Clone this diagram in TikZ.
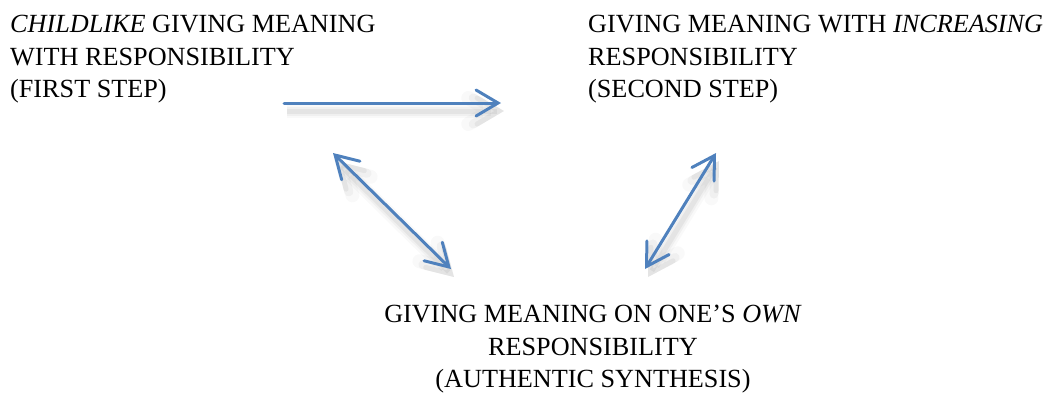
\documentclass[tikz,border=0pt]{standalone}
\usepackage{fontspec}
\setmainfont{Liberation Serif}
\usetikzlibrary{arrows.meta}
\definecolor{arrowblue}{RGB}{79,129,189}
\tikzset{
  label text/.style={inner sep=0pt, font=\fontsize{26.2}{32.5}\selectfont},
  link/.style={draw=arrowblue, line width=3pt, line cap=round,
    {Straight Barb[length=22pt,width=26pt,line cap=round]}-{Straight Barb[length=22pt,width=26pt,line cap=round]}},
  single link/.style={draw=arrowblue, line width=3pt, line cap=round,
    -{Straight Barb[length=22pt,width=26pt,line cap=round]}},
  soft shadow/.style={
    preaction={draw=black, draw opacity=0.025, line width=14pt, transform canvas={shift={(3pt,-8pt)}}},
    preaction={draw=black, draw opacity=0.035, line width=9pt, transform canvas={shift={(3pt,-8pt)}}},
    preaction={draw=black, draw opacity=0.05, line width=5pt, transform canvas={shift={(3pt,-8pt)}}}}
}
\begin{document}
\begin{tikzpicture}[x=1pt,y=-1pt]
\useasboundingbox (0,0) rectangle (1049,392);
\node[label text, anchor=north west, align=left] (tl) at (10,15)
  {\textit{CHILDLIKE} GIVING MEANING\\WITH RESPONSIBILITY\\(FIRST STEP)};
\node[label text, anchor=north west, align=left] (tr) at (588,15)
  {GIVING MEANING WITH \textit{INCREASING}\\RESPONSIBILITY\\(SECOND STEP)};
\node[label text, anchor=north, align=center] (bot) at (593,305)
  {GIVING MEANING ON ONE’S \textit{OWN}\\RESPONSIBILITY\\(AUTHENTIC SYNTHESIS)};
\coordinate (h1) at (284,103);
\coordinate (h2) at (501,103);
\coordinate (l1) at (333,153);
\coordinate (l2) at (451,269);
\coordinate (r1) at (716,153);
\coordinate (r2) at (645,269);
\draw[single link, soft shadow] (h1) -- (h2);
\draw[link, soft shadow] (l1) -- (l2);
\draw[link, soft shadow] (r1) -- (r2);
\end{tikzpicture}
\end{document}
